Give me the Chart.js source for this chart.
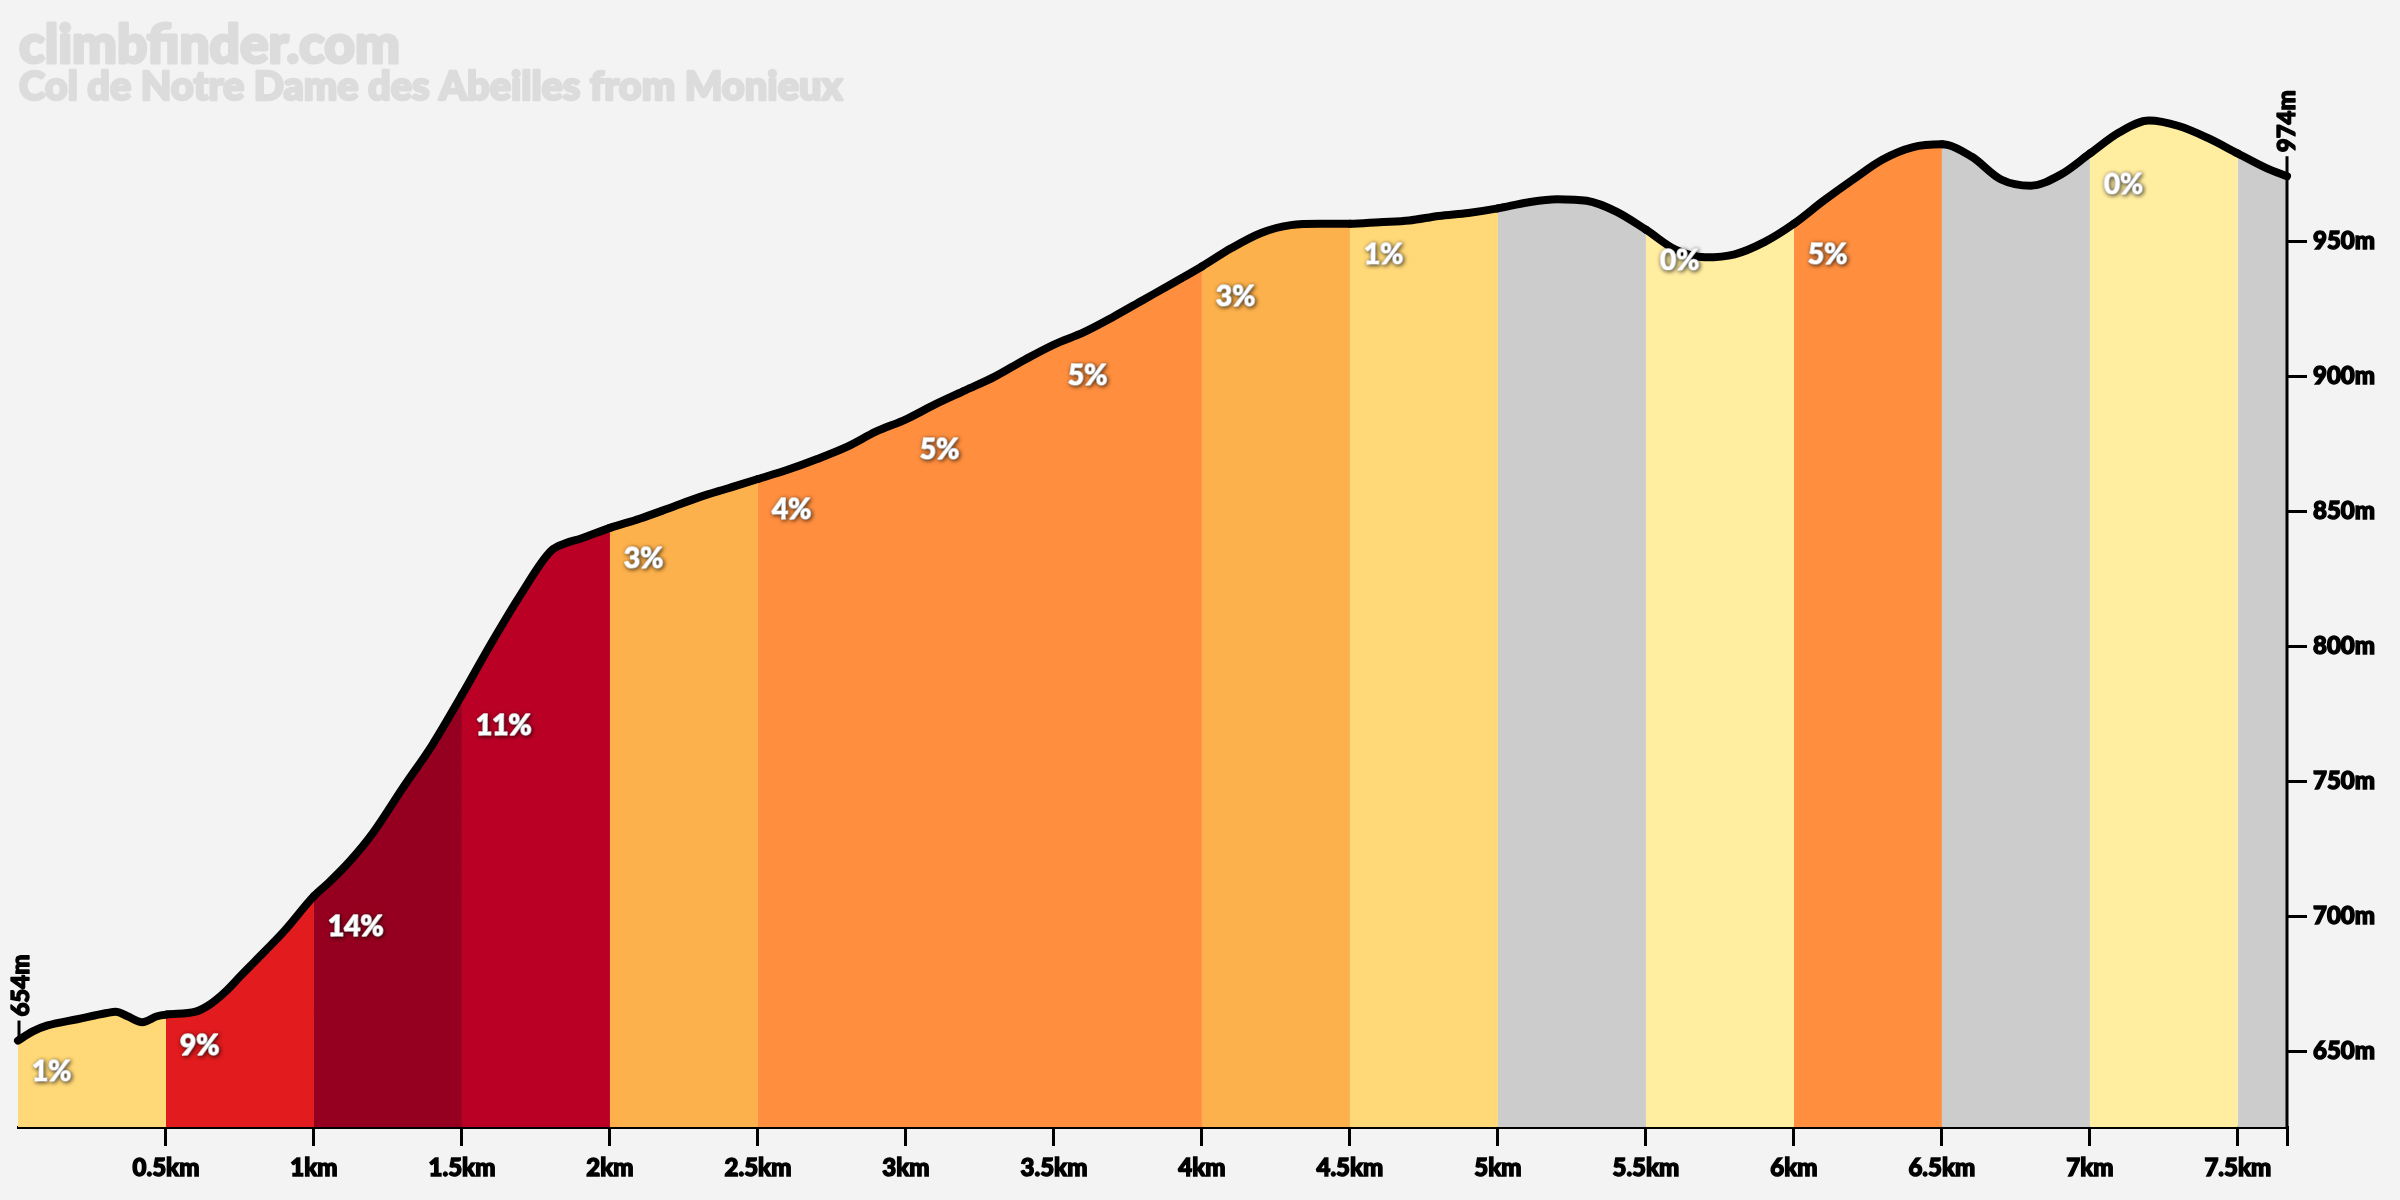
<!DOCTYPE html>
<html>
<head>
<meta charset="utf-8">
<script src="https://cdn.jsdelivr.net/npm/chart.js@4.4.1/dist/chart.umd.min.js"></script>
<style>
  html, body { margin: 0; padding: 0; background: #f3f3f3; }
  #wrap { width: 2400px; height: 1200px; }
  canvas { display: block; }
</style>
</head>
<body>
<div id="wrap"><canvas id="c" width="2400" height="1200"></canvas></div>
<script>
// ---- data ----
const siteName = "climbfinder.com";
const climbName = "Col de Notre Dame des Abeilles from Monieux";

const distanceKm = [0, 0.05, 0.1, 0.2, 0.3, 0.33, 0.37, 0.42, 0.47, 0.5,
  0.6, 0.65, 0.7, 0.75, 0.8, 0.9, 1.0, 1.05, 1.12, 1.2, 1.3, 1.4, 1.5,
  1.6, 1.7, 1.8, 1.85, 1.9, 2.0, 2.1, 2.2, 2.3, 2.4, 2.5, 2.6, 2.7, 2.8,
  2.9, 3.0, 3.1, 3.2, 3.3, 3.4, 3.5, 3.6, 3.7, 3.8, 3.9, 4.0, 4.1, 4.2,
  4.3, 4.4, 4.5, 4.6, 4.7, 4.8, 4.9, 5.0, 5.1, 5.2, 5.3, 5.4, 5.5, 5.6,
  5.7, 5.8, 5.9, 6.0, 6.1, 6.2, 6.3, 6.4, 6.5, 6.6, 6.7, 6.8, 6.9, 7.0,
  7.1, 7.2, 7.3, 7.4, 7.5, 7.6, 7.666];

const elevationM = [654, 657.4, 659.6, 661.9, 664.2, 664.7, 663.0, 660.8, 663.0, 663.6,
  664.7, 667.5, 672.0, 677.7, 683.3, 694.6, 707.5, 712.5, 720.3, 731.0, 747.5, 763.5, 782.0,
  801.3, 819.4, 835.2, 838.1, 839.8, 843.8, 847.2, 851.1, 855.1, 858.5, 861.9, 865.3, 869.3, 873.8,
  879.5, 884.0, 889.6, 894.7, 899.8, 906.0, 911.7, 916.2, 921.9, 928.1, 934.3, 940.6, 947.4, 953.0,
  955.9, 956.4, 956.4, 957.0, 957.6, 959.3, 960.4, 962.1, 964.3, 965.5, 964.9, 960.9, 954.2, 946.8,
  944.0, 945.1, 949.6, 956.4, 964.9, 972.8, 980.2, 984.7, 985.8, 981.3, 972.8, 970.5, 974.5, 982.4,
  990.3, 994.6, 992.6, 988.1, 982.4, 976.8, 974.0];

const segmentStartKm = [0, 0.5, 1, 1.5, 2, 2.5, 3, 3.5, 4, 4.5, 5, 5.5, 6, 6.5, 7, 7.5];
const gradeLabels = ["1%", "9%", "14%", "11%", "3%", "4%", "5%", "5%", "3%", "1%", "", "0%", "5%", "", "0%", ""];
const segmentColors = ["#FFD877", "#E11B1E", "#960020", "#BB0026", "#FDB14C", "#FF8F3F",
  "#FF8F3F", "#FF8F3F", "#FDB14C", "#FFD877", "#CCCCCC", "#FFEDA0", "#FF8F3F", "#CCCCCC",
  "#FFEDA0", "#CCCCCC"];

const xTickValues = [0.5, 1, 1.5, 2, 2.5, 3, 3.5, 4, 4.5, 5, 5.5, 6, 6.5, 7, 7.5, 7.666];
const xTickLabels = ["0.5km", "1km", "1.5km", "2km", "2.5km", "3km", "3.5km", "4km", "4.5km",
  "5km", "5.5km", "6km", "6.5km", "7km", "7.5km", ""];
const yTickValues = [650, 700, 750, 800, 850, 900, 950];
const yTickLabels = ["650m", "700m", "750m", "800m", "850m", "900m", "950m"];
const startLabel = "654m";
const endLabel = "974m";

// ---- chart ----
const FONT = "Lato, 'Open Sans', 'DejaVu Sans', sans-serif";

function segIndex(km) {
  let i = Math.floor(km / 0.5 + 1e-6);
  return Math.max(0, Math.min(segmentColors.length - 1, i));
}

const points = distanceKm.map((d, i) => ({ x: d, y: elevationM[i] }));

function heavyText(ctx, text, x, y, color, stroke) {
  ctx.fillStyle = color;
  ctx.strokeStyle = color;
  ctx.lineWidth = stroke;
  ctx.lineJoin = 'round';
  ctx.strokeText(text, x, y);
  ctx.fillText(text, x, y);
}

const titlePlugin = {
  id: 'titles',
  beforeDraw(chart) {
    const ctx = chart.ctx;
    ctx.save();
    ctx.fillStyle = '#f3f3f3';
    ctx.fillRect(0, 0, chart.width, chart.height);
    ctx.textAlign = 'left';
    ctx.textBaseline = 'alphabetic';
    const fit = (text, target, base) => {
      ctx.font = `900 ${base}px ${FONT}`;
      const w = ctx.measureText(text).width;
      return base * (target - 3) / w;
    };
    let s1 = fit(siteName, 384, 50);
    ctx.font = `900 ${s1}px ${FONT}`;
    heavyText(ctx, siteName, 19, 63, '#dcdcdc', 3);
    let s2 = fit(climbName, 827, 35);
    ctx.font = `900 ${s2}px ${FONT}`;
    heavyText(ctx, climbName, 19, 100, '#dcdcdc', 2.5);
    ctx.restore();
  }
};

const overlayPlugin = {
  id: 'overlay',
  afterDatasetsDraw(chart) {
    const ctx = chart.ctx;
    const xs = chart.scales.x, ys = chart.scales.y;
    const area = chart.chartArea;
    ctx.save();
    // grade labels
    ctx.font = `900 28px ${FONT}`;
    ctx.textAlign = 'left';
    ctx.textBaseline = 'middle';
    segmentStartKm.forEach((km, i) => {
      const txt = gradeLabels[i];
      if (!txt) return;
      const idx = distanceKm.findIndex(d => Math.abs(d - km) < 1e-6);
      const elev = elevationM[idx];
      const px = xs.getPixelForValue(km) + 14;
      const py = ys.getPixelForValue(elev) + 31;
      ctx.shadowColor = 'rgba(0,0,0,0.6)';
      ctx.shadowBlur = 4;
      ctx.shadowOffsetX = 1;
      ctx.shadowOffsetY = 1;
      heavyText(ctx, txt, px, py, '#ffffff', 1.6);
    });
    ctx.shadowColor = 'transparent';
    ctx.shadowBlur = 0;
    ctx.shadowOffsetX = 0;
    ctx.shadowOffsetY = 0;

    // partial right axis line from bottom to end elevation, plus end markers
    const endKm = distanceKm[distanceKm.length - 1];
    const endElev = elevationM[elevationM.length - 1];
    const startElev = elevationM[0];
    const xr = xs.getPixelForValue(endKm);
    const yEnd = ys.getPixelForValue(endElev);
    ctx.strokeStyle = '#000';
    ctx.lineWidth = 3;
    ctx.beginPath();
    ctx.moveTo(xr, area.bottom);
    ctx.lineTo(xr, yEnd - 20);
    ctx.stroke();

    const xl = xs.getPixelForValue(distanceKm[0]);
    const yStart = ys.getPixelForValue(startElev);
    ctx.beginPath();
    ctx.moveTo(xl + 1, yStart);
    ctx.lineTo(xl + 1, yStart - 20);
    ctx.stroke();

    ctx.font = `900 24px ${FONT}`;
    ctx.textBaseline = 'middle';
    ctx.textAlign = 'left';
    [[xr, yEnd, endLabel], [xl + 3, yStart, startLabel]].forEach(([x, y, t]) => {
      ctx.save();
      ctx.translate(x, y - 24);
      ctx.rotate(-Math.PI / 2);
      heavyText(ctx, t, 0, 0, '#000', 1.4);
      ctx.restore();
    });
    ctx.restore();
  }
};

function build() {
  new Chart(document.getElementById('c'), {
    type: 'line',
    data: {
      datasets: [{
        data: points,
        borderColor: '#000',
        borderWidth: 8,
        borderCapStyle: 'round',
        borderJoinStyle: 'round',
        pointRadius: 0,
        pointHoverRadius: 0,
        cubicInterpolationMode: 'monotone',
        fill: 'start',
        backgroundColor: segmentColors[0],
        clip: false,
        segment: {
          backgroundColor: c => segmentColors[segIndex(c.p0.parsed.x)]
        }
      }]
    },
    options: {
      responsive: false,
      animation: false,
      devicePixelRatio: 1,
      events: [],
      layout: { padding: { left: 18, right: 0, top: 106, bottom: 0 } },
      plugins: { legend: { display: false }, tooltip: { enabled: false }, title: { display: false } },
      scales: {
        x: {
          type: 'linear',
          min: 0,
          max: distanceKm[distanceKm.length - 1],
          afterBuildTicks: s => { s.ticks = xTickValues.map(v => ({ value: v })); },
          afterFit: s => { s.height = 73; },
          ticks: {
            autoSkip: false,
            maxRotation: 0,
            padding: 8,
            color: '#000',
            textStrokeColor: '#000',
            textStrokeWidth: 1.4,
            font: { family: FONT, size: 24, weight: 900 },
            callback: (v) => {
              const i = xTickValues.findIndex(t => Math.abs(t - v) < 1e-6);
              return i >= 0 ? xTickLabels[i] : '';
            }
          },
          grid: { drawOnChartArea: false, drawTicks: true, tickLength: 19, color: '#000', lineWidth: 3 },
          border: { display: true, color: '#000', width: 3 }
        },
        y: {
          type: 'linear',
          position: 'right',
          min: 622,
          max: 1000,
          afterBuildTicks: s => { s.ticks = yTickValues.map(v => ({ value: v })); },
          afterFit: s => { s.width = 113; },
          ticks: {
            padding: 6,
            color: '#000',
            textStrokeColor: '#000',
            textStrokeWidth: 1.4,
            font: { family: FONT, size: 24, weight: 900 },
            callback: (v) => {
              const i = yTickValues.indexOf(v);
              return i >= 0 ? yTickLabels[i] : '';
            }
          },
          grid: { drawOnChartArea: false, drawTicks: true, tickLength: 20, color: '#000', lineWidth: 3 },
          border: { display: false }
        }
      }
    },
    plugins: [titlePlugin, overlayPlugin]
  });
}

if (document.fonts && document.fonts.load) {
  document.fonts.load(`900 24px Lato`).then(build, build);
} else {
  build();
}
</script>
</body>
</html>
